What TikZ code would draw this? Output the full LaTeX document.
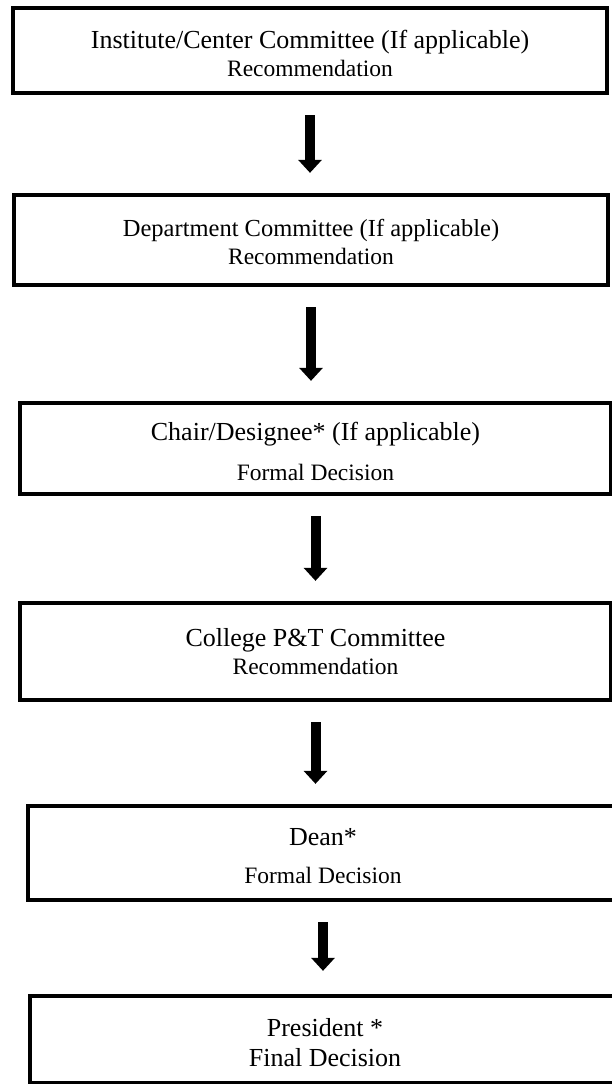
\documentclass[tikz,border=0pt]{standalone}
\usepackage{fontspec}
\setmainfont{Liberation Serif}
\usetikzlibrary{arrows.meta}
\tikzset{
  box/.style={draw=black, line width=4.3pt, align=center, inner sep=0pt,
    font=\fontsize{26}{28}\selectfont},
  flowarrow/.style={line width=10pt, line cap=butt, -{Triangle[width=23pt,length=13pt]},
    shorten <=20pt, shorten >=20pt}
}
\newcommand{\sub}[1]{{\fontsize{23.5}{28}\selectfont #1}}
\newcommand{\lift}[1]{\rule{0pt}{#1}}
\begin{document}
\begin{tikzpicture}[x=1pt,y=-1pt]
\useasboundingbox (0,0) rectangle (612,1084);
\node[box, minimum width=594pt, minimum height=85pt] (b1) at (310,50.5)
  {\lift{25pt}Institute/Center Committee (If applicable)\\[0pt]\sub{Recommendation}};
\node[box, minimum width=594pt, minimum height=90pt] (b2) at (311,240)
  {\fontsize{24.5}{28}\selectfont\lift{21pt}Department Committee (If applicable)\\[0pt]\sub{Recommendation}};
\node[box, minimum width=591pt, minimum height=91pt] (b3) at (315.5,448.5)
  {\lift{24pt}Chair/Designee* (If applicable)\\[12pt]\sub{Formal Decision}};
\node[box, minimum width=591pt, minimum height=97pt] (b4) at (315.5,651.5)
  {College P\&T Committee\\[0pt]\sub{Recommendation}};
\node[box, minimum width=590pt, minimum height=94pt] (b5) at (323,853)
  {\lift{24pt}Dean*\\[10pt]\sub{Formal Decision}};
\node[box, minimum width=590pt, minimum height=87pt] (b6) at (325,1039.5)
  {\lift{25pt}President *\\[2pt]Final Decision};
\draw[flowarrow] (b1.south) -- (b1.south |- b2.north);
\draw[flowarrow] (b2.south) -- (b2.south |- b3.north);
\draw[flowarrow] (b3.south) -- (b3.south |- b4.north);
\draw[flowarrow] (b4.south) -- (b4.south |- b5.north);
\draw[flowarrow, shorten >=23pt] (b5.south) -- (b5.south |- b6.north);
\end{tikzpicture}
\end{document}
